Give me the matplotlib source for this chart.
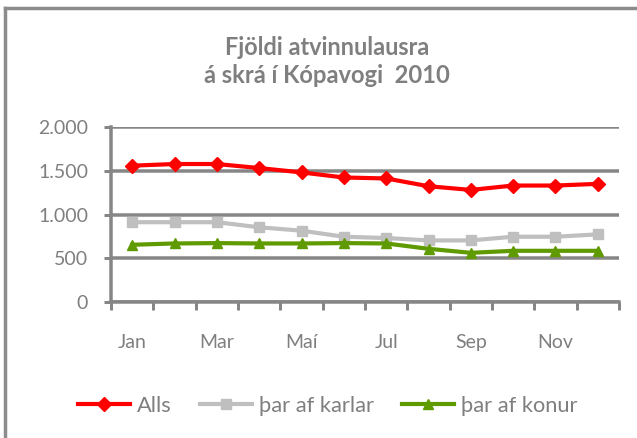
import matplotlib.pyplot as plt
from matplotlib.lines import Line2D
from matplotlib.ticker import FuncFormatter

months = ["Jan", "Feb", "Mar", "Apr", "Maí", "Jún", "Júl", "Ágú", "Sep", "Okt", "Nóv", "Des"]
tick_labels = ["Jan", "", "Mar", "", "Maí", "", "Jul", "", "Sep", "", "Nov", ""]
alls = [1558, 1577, 1577, 1531, 1481, 1423, 1412, 1323, 1281, 1331, 1331, 1350]
karlar = [912, 912, 912, 854, 815, 746, 731, 704, 704, 746, 746, 773]
konur = [654, 669, 673, 669, 669, 673, 669, 608, 562, 585, 585, 585]

plt.rcParams['font.family'] = ['Lato', 'DejaVu Sans']
txt = '#7f7f7f'
grid = '#868686'
W, H = 637, 438
px = 72 / 100  # points per pixel

fig = plt.figure(figsize=(W / 100, H / 100), dpi=100)
ax = fig.add_axes([111 / W, (H - 302) / H, (619 - 111) / W, (302 - 127) / H])

x = list(range(len(months)))
ax.plot(x, alls, color='#ff0000', lw=3, marker='D', ms=7.5, label='Alls')
ax.plot(x, karlar, color='#bfbfbf', lw=3, marker='s', ms=7.5, label='þar af karlar')
ax.plot(x, konur, color='#5f9a00', lw=3, marker='^', ms=7.5, label='þar af konur')

ax.set_xlim(-0.5, 11.5)
ax.set_ylim(0, 2000)
ax.set_yticks([0, 500, 1000, 1500, 2000])
ax.yaxis.set_major_formatter(FuncFormatter(lambda v, p: f"{int(v):,}".replace(",", ".")))
ax.set_xticks([i - 0.5 for i in range(13)])
ax.set_xticklabels([])
ax.set_xticks(x, minor=True)
ax.set_xticklabels(tick_labels, minor=True)
ax.tick_params(axis='x', which='minor', length=0, pad=23, labelsize=14, labelcolor=txt)
ax.tick_params(axis='x', which='major', length=8 * px, width=3 * px, color=grid)
ax.tick_params(axis='y', length=7 * px, width=3 * px, color=grid, labelsize=14, labelcolor=txt, pad=16 * px)

ax.grid(axis='y', color=grid, lw=3.5 * px)
ax.set_axisbelow(True)
for s in ['top', 'right']:
    ax.spines[s].set_visible(False)
for s in ['left', 'bottom']:
    ax.spines[s].set_color(grid)
    ax.spines[s].set_linewidth(3.5 * px)

# title, scaled so each line gets the width it has in the original
r = fig.canvas.get_renderer()
for line, base, width in [("Fjöldi atvinnulausra", 55, 207), ("á skrá í Kópavogi  2010", 83, 248)]:
    t = fig.text(327 / W, 1 - base / H, line, ha='center', va='baseline',
                 fontsize=14, fontweight='bold', color=txt)
    t.set_fontsize(14 * width / t.get_window_extent(r).width)

# legend font sized so "þar af karlar" is ~116 px wide as in the original
t = fig.text(0, 0, 'þar af karlar', fontsize=14)
fs = 14 * 116 / t.get_window_extent(r).width
t.remove()
em = fs / px  # font size in pixels
fig.legend(loc='center', bbox_to_anchor=(328 / W, 1 - 406 / H), ncol=3, frameon=False,
           fontsize=fs, labelcolor=txt, handlelength=52 / em, handletextpad=7 / em,
           columnspacing=28 / em, borderpad=0, borderaxespad=0)

# outer chart frame (cropped: only left and top visible)
fig.add_artist(Line2D([5 / W, 5 / W], [0, 1 - 8 / H], color='#8c8c8c', lw=2.5, transform=fig.transFigure))
fig.add_artist(Line2D([5 / W, 1], [1 - 8 / H, 1 - 8 / H], color='#8c8c8c', lw=2.5, transform=fig.transFigure))

fig.savefig('out.png', dpi=100)
